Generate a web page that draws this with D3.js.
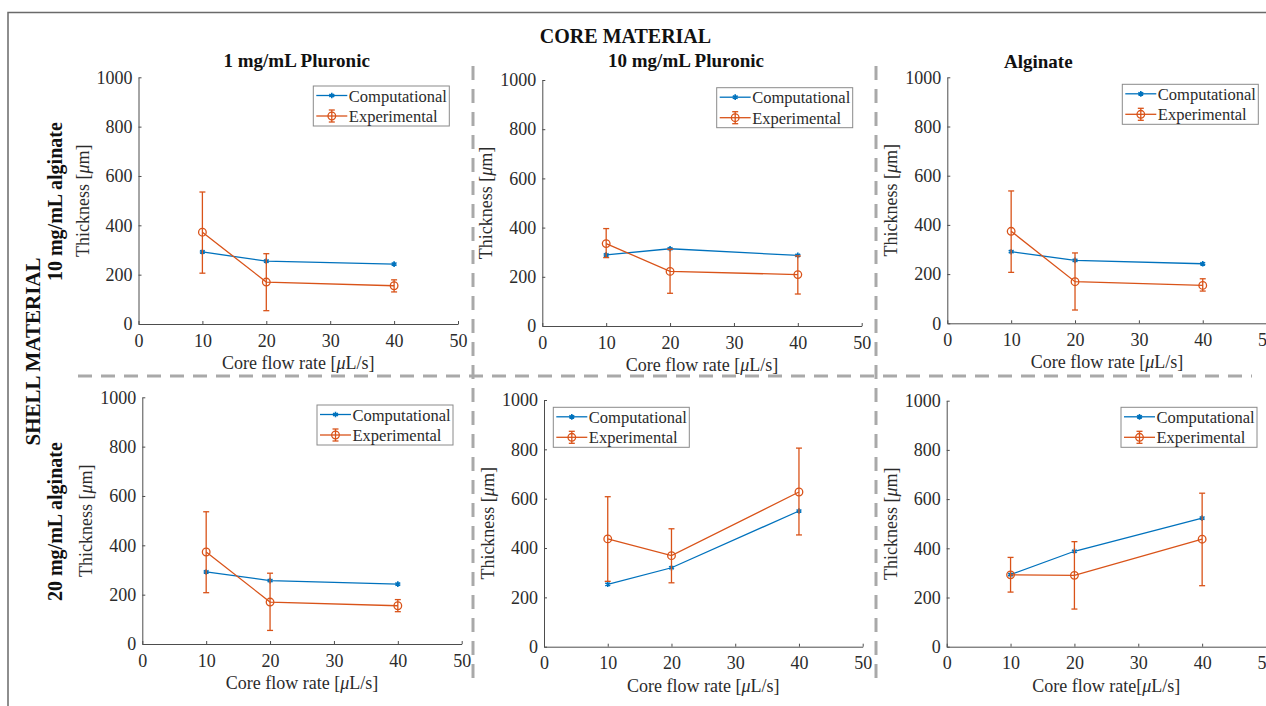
<!DOCTYPE html>
<html>
<head>
<meta charset="utf-8">
<script src="https://cdn.jsdelivr.net/npm/d3@7"></script>
<style>
  html, body { margin: 0; padding: 0; background: #fff; }
  svg { display: block; }
  text { font-family: "Liberation Serif", "Times New Roman", serif; }
</style>
</head>
<body>
<svg id="chart" width="1266" height="706"></svg>
<script>
// ---------- data ----------
const xTicks = [0, 10, 20, 30, 40, 50];
const yTicks = [0, 200, 400, 600, 800, 1000];
const flowRates = [10, 20, 40];
const columnTitles = ["1 mg/mL Pluronic", "10 mg/mL Pluronic", "Alginate"];
const rowLabels = ["10 mg/mL alginate", "20 mg/mL alginate"];
const seriesNames = ["Computational", "Experimental"];
// panels ordered: top-left, top-middle, top-right, bottom-left, bottom-middle, bottom-right
const compValues = [
  [292, 255, 243],
  [289, 314, 287],
  [291, 256, 242],
  [292, 257, 243],
  [253, 320, 550],
  [293, 388, 523]
];
const expValues = [
  [372, 170, 155],
  [335, 222, 209],
  [374, 169, 154],
  [373, 170, 155],
  [437, 369, 627],
  [292, 290, 437]
];
const expUpper = [
  [535, 285, 179],
  [396, 312, 285],
  [538, 286, 181],
  [536, 287, 180],
  [608, 478, 805],
  [363, 427, 624]
];
const expLower = [
  [206, 54, 130],
  [278, 133, 130],
  [207, 54, 131],
  [208, 55, 131],
  [265, 259, 453],
  [222, 153, 248]
];
const xLabels = ["Core flow rate [", "Core flow rate [", "Core flow rate [",
                 "Core flow rate [", "Core flow rate [", "Core flow rate["];

// ---------- layout (pixels) ----------
const panels = [
  { x0: 138.5, x1: 458.0, yT: 77.3, yB: 324.0, leg: [313.3, 86.0], title: [296.7, 66.5] },
  { x0: 542.3, x1: 861.7, yT: 80.0, yB: 326.0, leg: [716.7, 87.7], title: [686.0, 66.5] },
  { x0: 947.3, x1: 1266.6, yT: 77.3, yB: 323.3, leg: [1122.3, 84.3], title: [1038.3, 67.5] },
  { x0: 142.3, x1: 461.7, yT: 397.3, yB: 644.0, leg: [317.0, 405.0] },
  { x0: 544.0, x1: 862.7, yT: 400.0, yB: 646.7, leg: [553.3, 407.3] },
  { x0: 946.7, x1: 1266.0, yT: 400.7, yB: 646.7, leg: [1121.0, 407.3] }
];
const blue = "#0072BD", orange = "#D95319";
const axisColor = "#4d4d4d", textColor = "#2b2b2b";
const serif = "'Liberation Serif', 'Times New Roman', serif";

const svg = d3.select("#chart");

// outer frame
svg.append("path").attr("d", "M8,706 L8,12.5 L1266,12.5")
  .attr("fill", "none").attr("stroke", "#6a6a6a").attr("stroke-width", 1.5);

// dashed separators
const dash = svg.append("g").attr("stroke", "#a9a9a9").attr("stroke-width", 3)
  .attr("stroke-dasharray", "14,9").attr("fill", "none");
dash.append("line").attr("x1", 78).attr("x2", 1252).attr("y1", 376).attr("y2", 376);
dash.append("line").attr("x1", 473).attr("x2", 473).attr("y1", 66).attr("y2", 686);
dash.append("line").attr("x1", 876).attr("x2", 876).attr("y1", 66).attr("y2", 686);

// headings
svg.append("text").attr("x", 625.5).attr("y", 42.5).attr("text-anchor", "middle")
  .attr("font-size", 20).attr("font-weight", "bold").attr("fill", "#111").text("CORE MATERIAL");
svg.append("text").attr("transform", "translate(40,351.5) rotate(-90)").attr("text-anchor", "middle")
  .attr("font-size", 21).attr("font-weight", "bold").attr("fill", "#111").text("SHELL MATERIAL");
rowLabels.forEach((lab, i) => {
  const p = panels[i * 3];
  svg.append("text").attr("transform", `translate(61.5,${(p.yT + p.yB) / 2 + 1}) rotate(-90)`)
    .attr("text-anchor", "middle").attr("font-size", 20).attr("font-weight", "bold")
    .attr("fill", "#111").text(lab);
});

panels.forEach((p, i) => {
  const x = d3.scaleLinear().domain([0, 50]).range([p.x0, p.x1]);
  const y = d3.scaleLinear().domain([0, 1000]).range([p.yB, p.yT]);
  const g = svg.append("g");

  // axes
  const ax = g.append("g").attr("transform", `translate(0,${p.yB})`)
    .call(d3.axisBottom(x).tickValues(xTicks).tickFormat(d3.format("d"))
      .tickSizeInner(-3).tickSizeOuter(0).tickPadding(10));
  const ay = g.append("g").attr("transform", `translate(${p.x0},0)`)
    .call(d3.axisLeft(y).tickValues(yTicks).tickFormat(d3.format("d"))
      .tickSizeInner(-3).tickSizeOuter(0).tickPadding(6));
  [ax, ay].forEach(a => {
    a.attr("font-family", serif).attr("font-size", 18);
    a.select(".domain").attr("stroke", axisColor).attr("stroke-width", 1);
    a.selectAll(".tick line").attr("stroke", axisColor);
    a.selectAll(".tick text").attr("fill", textColor)
      .style("font-family", serif).style("font-size", "18px");
  });

  // axis labels
  const xl = g.append("text").attr("x", (p.x0 + p.x1) / 2).attr("y", p.yB + 45)
    .attr("text-anchor", "middle").attr("font-size", 18).attr("fill", textColor);
  xl.append("tspan").text(xLabels[i]);
  xl.append("tspan").attr("font-style", "italic").text("\u03bc");
  xl.append("tspan").text("L/s]");
  const yl = g.append("text").attr("transform", `translate(${p.x0 - 50},${(p.yT + p.yB) / 2}) rotate(-90)`)
    .attr("text-anchor", "middle").attr("font-size", 18).attr("fill", textColor);
  yl.append("tspan").text("Thickness [");
  yl.append("tspan").attr("font-style", "italic").text("\u03bc");
  yl.append("tspan").text("m]");

  if (p.title) {
    g.append("text").attr("x", p.title[0]).attr("y", p.title[1]).attr("text-anchor", "middle")
      .attr("font-size", 19).attr("font-weight", "bold").attr("fill", "#111").text(columnTitles[i]);
  }

  // computational series
  const comp = flowRates.map((f, k) => [f, compValues[i][k]]);
  const line = d3.line().x(d => x(d[0])).y(d => y(d[1]));
  g.append("path").attr("d", line(comp)).attr("fill", "none").attr("stroke", blue).attr("stroke-width", 1.3);
  const star = d3.symbol().type(d3.symbolAsterisk).size(22);
  g.selectAll(".cm").data(comp).join("path")
    .attr("transform", d => `translate(${x(d[0])},${y(d[1])})`)
    .attr("d", star).attr("fill", "none").attr("stroke", blue).attr("stroke-width", 1.6);

  // experimental series
  const exp = flowRates.map((f, k) => ({ f, v: expValues[i][k], hi: expUpper[i][k], lo: expLower[i][k] }));
  g.append("path").attr("d", d3.line().x(d => x(d.f)).y(d => y(d.v))(exp))
    .attr("fill", "none").attr("stroke", orange).attr("stroke-width", 1.3);
  const eb = g.selectAll(".eb").data(exp).join("g").attr("stroke", orange).attr("stroke-width", 1.3);
  eb.append("line").attr("x1", d => x(d.f)).attr("x2", d => x(d.f)).attr("y1", d => y(d.hi)).attr("y2", d => y(d.lo));
  eb.append("line").attr("x1", d => x(d.f) - 3).attr("x2", d => x(d.f) + 3).attr("y1", d => y(d.hi)).attr("y2", d => y(d.hi));
  eb.append("line").attr("x1", d => x(d.f) - 3).attr("x2", d => x(d.f) + 3).attr("y1", d => y(d.lo)).attr("y2", d => y(d.lo));
  eb.append("circle").attr("cx", d => x(d.f)).attr("cy", d => y(d.v)).attr("r", 3.8).attr("fill", "none");

  // legend
  const [lx, ly] = p.leg;
  const lg = g.append("g").attr("transform", `translate(${lx},${ly})`);
  lg.append("rect").attr("width", 136).attr("height", 40).attr("fill", "#fff")
    .attr("stroke", "#8a8a8a").attr("stroke-width", 1);
  lg.append("line").attr("x1", 3).attr("x2", 34).attr("y1", 9.5).attr("y2", 9.5).attr("stroke", blue).attr("stroke-width", 1.3);
  lg.append("path").attr("transform", "translate(18.5,9.5)").attr("d", star)
    .attr("fill", "none").attr("stroke", blue).attr("stroke-width", 1.6);
  lg.append("line").attr("x1", 3).attr("x2", 34).attr("y1", 30).attr("y2", 30).attr("stroke", orange).attr("stroke-width", 1.3);
  lg.append("line").attr("x1", 18.5).attr("x2", 18.5).attr("y1", 24).attr("y2", 36).attr("stroke", orange).attr("stroke-width", 1.3);
  lg.append("line").attr("x1", 15.5).attr("x2", 21.5).attr("y1", 24).attr("y2", 24).attr("stroke", orange).attr("stroke-width", 1.3);
  lg.append("line").attr("x1", 15.5).attr("x2", 21.5).attr("y1", 36).attr("y2", 36).attr("stroke", orange).attr("stroke-width", 1.3);
  lg.append("circle").attr("cx", 18.5).attr("cy", 30).attr("r", 3.8).attr("fill", "none").attr("stroke", orange).attr("stroke-width", 1.3);
  seriesNames.forEach((n, k) => {
    lg.append("text").attr("x", 35.5).attr("y", k === 0 ? 15.5 : 36).attr("font-size", 16.5)
      .attr("fill", textColor).text(n);
  });
});
</script>
</body>
</html>
